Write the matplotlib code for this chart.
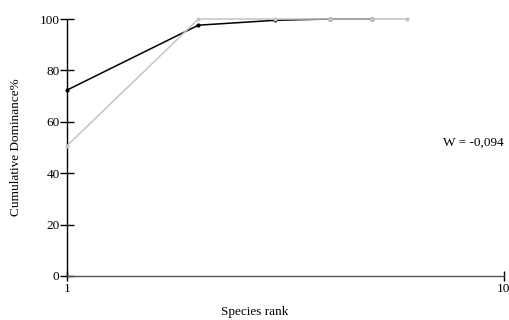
import matplotlib
matplotlib.use("Agg")
import matplotlib.pyplot as plt
from matplotlib.ticker import FixedLocator, NullLocator

rank_black = [1, 2, 3, 4, 5]
dom_black = [72.3, 97.6, 99.5, 100, 100]
rank_grey = [1, 2, 3, 4, 5, 6]
dom_grey = [50.6, 100, 100, 100, 100, 100]
yticks = [0, 20, 40, 60, 80, 100]
xticks = [1, 10]
w_text = "W = -0,094"

plt.rcParams['font.family'] = ['Liberation Serif', 'DejaVu Serif']
FS = 9.5

fig = plt.figure(figsize=(5.1, 3.2), dpi=100)
ax = fig.add_axes([0.131, 0.1375, 0.857, 0.8031])

ax.plot(rank_black, dom_black, color='black', lw=1.1, marker='o', ms=2, zorder=3, clip_on=False)
ax.plot(rank_grey, dom_grey, color='#c4c4c4', lw=1.1, marker='o', ms=2, zorder=4, clip_on=False)

ax.set_xscale('log')
ax.set_xlim(1, 10)
ax.set_ylim(0, 100)
ax.xaxis.set_major_locator(FixedLocator(xticks))
ax.xaxis.set_minor_locator(NullLocator())
ax.set_xticklabels([str(t) for t in xticks])
ax.set_yticks(yticks)

for s in ['top', 'right']:
    ax.spines[s].set_visible(False)
ax.spines['left'].set_color('black')
ax.spines['left'].set_linewidth(1.0)
ax.spines['bottom'].set_color('#555555')
ax.spines['bottom'].set_linewidth(1.0)

ax.tick_params(axis='y', direction='inout', length=9.5, width=1.0, labelsize=FS, pad=0.5)
ax.tick_params(axis='x', direction='inout', length=7, width=1.0, labelsize=FS, pad=1.5)

ax.set_xlabel('Species rank', fontsize=FS)
ax.xaxis.set_label_coords(0.43, -0.115)
ax.set_ylabel('Cumulative Dominance%', fontsize=FS)
ax.yaxis.set_label_coords(-0.103, 0.5)

ax.text(1.0, 0.52, w_text, transform=ax.transAxes, ha='right', va='center', fontsize=FS)

fig.savefig('out.png', dpi=100)
